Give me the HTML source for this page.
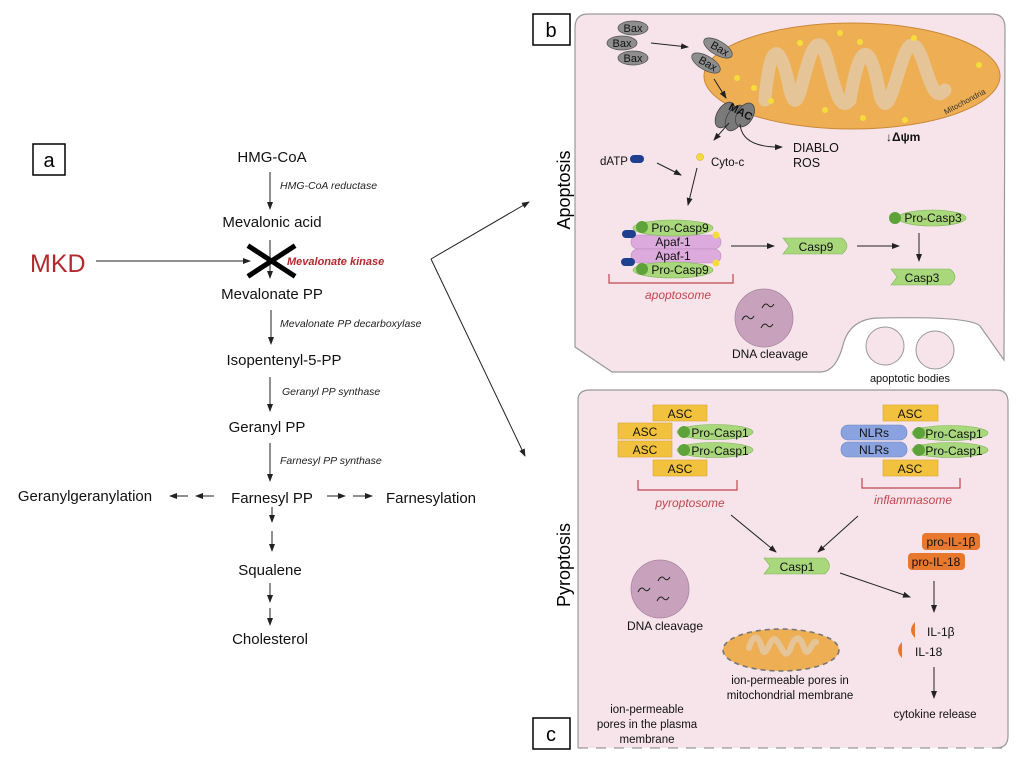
<!DOCTYPE html>
<html><head><meta charset="utf-8"><style>
html,body{margin:0;padding:0;background:#fff;}
svg{display:block;font-family:"Liberation Sans",Arial,sans-serif;}
</style></head><body>
<svg width="1024" height="762" viewBox="0 0 1024 762" xmlns="http://www.w3.org/2000/svg">
<defs>
<marker id="ah" markerWidth="8" markerHeight="8" refX="7" refY="4" orient="auto" markerUnits="userSpaceOnUse"><path d="M0,1 L8,4 L0,7 z" fill="#222"/></marker>
</defs>
<rect width="1024" height="762" fill="#fff"/>

<!-- Panel a -->
<rect x="33" y="144" width="32" height="31" fill="#fff" stroke="#000" stroke-width="1.5"/>
<text x="49" y="167" font-size="20" text-anchor="middle">a</text>
<g font-size="15" text-anchor="middle" fill="#111">
<text x="272" y="162">HMG-CoA</text>
<text x="272" y="227">Mevalonic acid</text>
<text x="272" y="299">Mevalonate PP</text>
<text x="284" y="365">Isopentenyl-5-PP</text>
<text x="267" y="432">Geranyl PP</text>
<text x="272" y="503">Farnesyl PP</text>
<text x="85" y="501">Geranylgeranylation</text>
<text x="431" y="503">Farnesylation</text>
<text x="270" y="575">Squalene</text>
<text x="270" y="644">Cholesterol</text>
</g>
<g font-size="10.5" font-style="italic" fill="#222">
<text x="280" y="189">HMG-CoA reductase</text>
<text x="280" y="327">Mevalonate PP decarboxylase</text>
<text x="282" y="395">Geranyl PP synthase</text>
<text x="280" y="464">Farnesyl PP synthase</text>
</g>
<text x="287" y="265" font-size="11" font-weight="bold" font-style="italic" fill="#b3282d">Mevalonate kinase</text>
<text x="30" y="272" font-size="25" fill="#b3282d">MKD</text>
<g stroke="#222" stroke-width="1" marker-end="url(#ah)">
<line x1="270" y1="172" x2="270" y2="209"/>
<line x1="270" y1="240" x2="270" y2="278"/>
<line x1="271" y1="310" x2="271" y2="344"/>
<line x1="270" y1="377" x2="270" y2="411"/>
<line x1="270" y1="443" x2="270" y2="481"/>
<line x1="96" y1="261" x2="250" y2="261"/>
<line x1="272" y1="507" x2="272" y2="522"/>
<line x1="272" y1="531" x2="272" y2="551"/>
<line x1="270" y1="583" x2="270" y2="602"/>
<line x1="270" y1="608" x2="270" y2="625"/>
<line x1="214" y1="496" x2="196" y2="496"/>
<line x1="188" y1="496" x2="170" y2="496"/>
<line x1="327" y1="496" x2="345" y2="496"/>
<line x1="353" y1="496" x2="372" y2="496"/>
</g>
<g stroke="#000" stroke-width="5" stroke-linecap="square">
<line x1="250" y1="247" x2="293" y2="275"/>
<line x1="293" y1="247" x2="250" y2="275"/>
</g>
<g stroke="#222" stroke-width="1" fill="none">
<line x1="431" y1="259" x2="529" y2="202" marker-end="url(#ah)"/>
<line x1="431" y1="259" x2="525" y2="456" marker-end="url(#ah)"/>
</g>

<!-- Panel b -->
<path d="M588,14 L992,14 Q1005,14 1005,28 L1004,360 L980,326 Q970,316 880,318 Q850,318 843,345 Q836,372 820,372 L612,372 L575,347 L575,28 Q575,14 588,14 Z" fill="#f6e4ea" stroke="#999" stroke-width="1.2"/>
<rect x="533" y="14" width="37" height="31" fill="#fff" stroke="#000" stroke-width="1.5"/>
<text x="551" y="37" font-size="20" text-anchor="middle">b</text>
<text transform="translate(570,190) rotate(-90)" font-size="18" text-anchor="middle">Apoptosis</text>

<ellipse cx="852" cy="76" rx="148" ry="53" fill="#eeae53" stroke="#c8893a" stroke-width="1"/>
<path d="M765,100 C770,40 780,40 790,90 C800,130 805,40 820,45 C830,50 835,120 850,100 C860,40 870,40 880,95 C890,130 900,45 912,45 C925,45 930,110 945,90" fill="none" stroke="#e5c498" stroke-width="13" stroke-linecap="round"/>
<g fill="#f5dc3c">
<circle cx="840" cy="33" r="3"/><circle cx="800" cy="43" r="3"/><circle cx="860" cy="42" r="3"/><circle cx="914" cy="38" r="3"/>
<circle cx="737" cy="78" r="3"/><circle cx="754" cy="88" r="3"/><circle cx="771" cy="101" r="3"/><circle cx="825" cy="110" r="3"/>
<circle cx="863" cy="118" r="3"/><circle cx="905" cy="120" r="3"/><circle cx="979" cy="65" r="3"/>
</g>
<text transform="translate(966,104) rotate(-28)" font-size="8" fill="#333" text-anchor="middle">Mitochondria</text>
<g fill="#8e8e8e" stroke="#555" stroke-width="0.8">
<ellipse cx="633" cy="28" rx="15" ry="7"/><ellipse cx="622" cy="43" rx="15" ry="7"/><ellipse cx="633" cy="58" rx="15" ry="7"/>
<ellipse cx="718" cy="48" rx="16" ry="7" transform="rotate(30 718 48)"/>
<ellipse cx="706" cy="63" rx="16" ry="7" transform="rotate(30 706 63)"/>
</g>
<g font-size="11" fill="#111" text-anchor="middle">
<text x="633" y="32">Bax</text><text x="622" y="47">Bax</text><text x="633" y="62">Bax</text>
<text transform="translate(718,52) rotate(30)">Bax</text>
<text transform="translate(706,67) rotate(30)">Bax</text>
</g>
<g fill="#7a7a7a" stroke="#444" stroke-width="0.8">
<ellipse cx="725" cy="115" rx="8" ry="14" transform="rotate(30 725 115)"/>
<ellipse cx="735" cy="118" rx="8" ry="14" transform="rotate(30 735 118)"/>
<ellipse cx="745" cy="115" rx="8" ry="13" transform="rotate(30 745 115)"/>
</g>
<text transform="translate(739,115) rotate(28)" font-size="11" font-weight="bold" text-anchor="middle" fill="#111">MAC</text>
<g stroke="#222" stroke-width="1" fill="none" marker-end="url(#ah)">
<line x1="651" y1="43" x2="688" y2="47"/>
<line x1="714" y1="79" x2="726" y2="98"/>
<line x1="729" y1="123" x2="714" y2="140"/>
<path d="M740,124 Q742,148 782,147"/>
<line x1="657" y1="163" x2="681" y2="175"/>
<line x1="697" y1="168" x2="688" y2="205"/>
<line x1="731" y1="246" x2="774" y2="246"/>
<line x1="857" y1="246" x2="899" y2="246"/>
<line x1="919" y1="233" x2="919" y2="261"/>
</g>
<text x="793" y="152" font-size="12.5" fill="#111">DIABLO</text>
<text x="793" y="167" font-size="12.5" fill="#111">ROS</text>
<text x="886" y="141" font-size="12" font-weight="bold" fill="#111">↓Δψm</text>
<text x="600" y="165" font-size="11.5" fill="#111">dATP</text>
<rect x="630" y="155" width="14" height="8" rx="4" fill="#1f3f8f"/>
<circle cx="700" cy="157" r="3.5" fill="#f5dc3c" stroke="#c9a820" stroke-width="0.5"/>
<text x="711" y="166" font-size="11.5" fill="#111">Cyto-c</text>

<rect x="631" y="235" width="90" height="14" rx="7" fill="#dcaadc" stroke="#b98ab9" stroke-width="0.6"/>
<rect x="631" y="249" width="90" height="14" rx="7" fill="#dcaadc" stroke="#b98ab9" stroke-width="0.6"/>
<ellipse cx="673" cy="228" rx="40" ry="8" fill="#a9d77c" stroke="#7fb456" stroke-width="0.6"/>
<ellipse cx="673" cy="270" rx="40" ry="8" fill="#a9d77c" stroke="#7fb456" stroke-width="0.6"/>
<circle cx="642" cy="227" r="6" fill="#5ea33a"/><circle cx="642" cy="269" r="6" fill="#5ea33a"/>
<rect x="622" y="230" width="14" height="8" rx="4" fill="#1f3f8f"/>
<rect x="621" y="258" width="14" height="8" rx="4" fill="#1f3f8f"/>
<circle cx="716" cy="235" r="3.5" fill="#f5dc3c"/><circle cx="716" cy="263" r="3.5" fill="#f5dc3c"/>
<g font-size="12" fill="#111" text-anchor="middle">
<text x="680" y="232">Pro-Casp9</text><text x="673" y="246">Apaf-1</text><text x="673" y="260">Apaf-1</text><text x="680" y="274">Pro-Casp9</text>
</g>
<path d="M609,274 L609,283 L733,283 L733,274" fill="none" stroke="#c0474f" stroke-width="1.2"/>
<text x="678" y="299" font-size="12" font-style="italic" fill="#c0474f" text-anchor="middle">apoptosome</text>

<path d="M783,238 L842,238 Q852,246 842,254 L783,254 L789,246 Z" fill="#a9d77c" stroke="#7fb456" stroke-width="0.6"/>
<text x="816" y="251" font-size="12" text-anchor="middle" fill="#111">Casp9</text>
<ellipse cx="932" cy="218" rx="34" ry="8" fill="#a9d77c" stroke="#7fb456" stroke-width="0.6"/>
<circle cx="895" cy="218" r="6" fill="#5ea33a"/>
<text x="933" y="222" font-size="12" text-anchor="middle" fill="#111">Pro-Casp3</text>
<path d="M891,269 L950,269 Q960,277 950,285 L891,285 L897,277 Z" fill="#a9d77c" stroke="#7fb456" stroke-width="0.6"/>
<text x="922" y="282" font-size="12" text-anchor="middle" fill="#111">Casp3</text>

<circle cx="764" cy="318" r="29" fill="#c8a2bd" stroke="#a885a0" stroke-width="0.8"/>
<g stroke="#222" fill="none" stroke-width="1">
<path d="M742,320 q3,-6 6,-3 q3,4 6,-1"/><path d="M762,308 q3,-6 6,-3 q3,4 6,-1"/><path d="M761,328 q3,-6 6,-3 q3,4 6,-1"/>
</g>
<text x="770" y="358" font-size="12" text-anchor="middle" fill="#111">DNA cleavage</text>
<circle cx="885" cy="346" r="19" fill="#f6e4ea" stroke="#999"/>
<circle cx="935" cy="350" r="19" fill="#f6e4ea" stroke="#999"/>
<text x="910" y="382" font-size="11" text-anchor="middle" fill="#111">apoptotic bodies</text>

<!-- Panel c -->
<path d="M578,748 L578,400 Q578,390 590,390 L996,390 Q1008,390 1008,402 L1008,736 Q1008,748 996,748" fill="#f6e4ea" stroke="#999" stroke-width="1.2"/>
<line x1="578" y1="748" x2="1008" y2="748" stroke="#999" stroke-width="1.2" stroke-dasharray="10,8"/>
<rect x="533" y="718" width="37" height="31" fill="#fff" stroke="#000" stroke-width="1.5"/>
<text x="551" y="741" font-size="20" text-anchor="middle">c</text>
<text transform="translate(570,565) rotate(-90)" font-size="18" text-anchor="middle">Pyroptosis</text>

<g fill="#f2c23f" stroke="#d7a52b" stroke-width="0.6">
<rect x="653" y="405" width="54" height="16"/><rect x="618" y="423" width="54" height="16"/>
<rect x="618" y="441" width="54" height="16"/><rect x="653" y="460" width="54" height="16"/>
<rect x="883" y="405" width="55" height="16"/><rect x="883" y="460" width="55" height="16"/>
</g>
<g fill="#8aa3e0" stroke="#6b84c4" stroke-width="0.6">
<rect x="841" y="425" width="66" height="15" rx="7"/><rect x="841" y="442" width="66" height="15" rx="7"/>
</g>
<g fill="#a9d77c" stroke="#7fb456" stroke-width="0.6">
<ellipse cx="715" cy="432" rx="38" ry="7.5"/><ellipse cx="715" cy="450" rx="38" ry="7.5"/>
<ellipse cx="950" cy="433" rx="38" ry="7.5"/><ellipse cx="950" cy="450" rx="38" ry="7.5"/>
</g>
<g fill="#5ea33a"><circle cx="684" cy="432" r="6"/><circle cx="684" cy="450" r="6"/><circle cx="919" cy="433" r="6"/><circle cx="919" cy="450" r="6"/></g>
<g font-size="12" fill="#111" text-anchor="middle">
<text x="680" y="418">ASC</text><text x="645" y="436">ASC</text><text x="645" y="454">ASC</text><text x="680" y="473">ASC</text>
<text x="720" y="437">Pro-Casp1</text><text x="720" y="455">Pro-Casp1</text>
<text x="910" y="418">ASC</text><text x="910" y="473">ASC</text>
<text x="874" y="437">NLRs</text><text x="874" y="454">NLRs</text>
<text x="954" y="438">Pro-Casp1</text><text x="954" y="455">Pro-Casp1</text>
</g>
<path d="M638,480 L638,490 L737,490 L737,480" fill="none" stroke="#c0474f" stroke-width="1.2"/>
<text x="690" y="507" font-size="12" font-style="italic" fill="#c0474f" text-anchor="middle">pyroptosome</text>
<path d="M862,478 L862,488 L960,488 L960,478" fill="none" stroke="#c0474f" stroke-width="1.2"/>
<text x="913" y="504" font-size="12" font-style="italic" fill="#c0474f" text-anchor="middle">inflammasome</text>
<g stroke="#222" stroke-width="1" fill="none" marker-end="url(#ah)">
<line x1="731" y1="515" x2="776" y2="552"/>
<line x1="858" y1="516" x2="818" y2="552"/>
<line x1="840" y1="573" x2="910" y2="597"/>
<line x1="934" y1="581" x2="934" y2="612"/>
<line x1="934" y1="667" x2="934" y2="698"/>
</g>
<path d="M764,558 L825,558 Q834,566 825,574 L764,574 L770,566 Z" fill="#a9d77c" stroke="#7fb456" stroke-width="0.6"/>
<text x="797" y="571" font-size="12" text-anchor="middle" fill="#111">Casp1</text>
<rect x="922" y="533" width="58" height="17" rx="4" fill="#e8782e"/>
<rect x="908" y="553" width="57" height="17" rx="4" fill="#e8782e"/>
<text x="951" y="546" font-size="12" text-anchor="middle" fill="#111">pro-IL-1β</text>
<text x="936" y="566" font-size="12" text-anchor="middle" fill="#111">pro-IL-18</text>
<path d="M915,622 Q907,630 915,638 Z" fill="#e8782e"/>
<path d="M902,642 Q894,650 902,658 Z" fill="#e8782e"/>
<text x="927" y="636" font-size="12" fill="#111">IL-1β</text>
<text x="915" y="656" font-size="12" fill="#111">IL-18</text>
<text x="935" y="718" font-size="11.5" text-anchor="middle" fill="#111">cytokine release</text>

<circle cx="660" cy="589" r="29" fill="#c8a2bd" stroke="#a885a0" stroke-width="0.8"/>
<g stroke="#222" fill="none" stroke-width="1">
<path d="M638,592 q3,-6 6,-3 q3,4 6,-1"/><path d="M658,581 q3,-6 6,-3 q3,4 6,-1"/><path d="M657,601 q3,-6 6,-3 q3,4 6,-1"/>
</g>
<text x="665" y="630" font-size="12" text-anchor="middle" fill="#111">DNA cleavage</text>
<ellipse cx="781" cy="650" rx="58" ry="21" fill="#eeae53" stroke="#777" stroke-width="1.6" stroke-dasharray="5,4"/>
<path d="M749,648 C753,634 758,634 762,648 C766,662 770,634 776,640 C782,646 784,660 790,650 C794,636 800,634 804,648 C808,660 812,640 816,642" fill="none" stroke="#e5c498" stroke-width="6" stroke-linecap="round"/>
<text x="790" y="684" font-size="11.5" text-anchor="middle" fill="#111">ion-permeable pores in</text>
<text x="790" y="699" font-size="11.5" text-anchor="middle" fill="#111">mitochondrial membrane</text>
<text x="647" y="713" font-size="11.5" text-anchor="middle" fill="#111">ion-permeable</text>
<text x="647" y="728" font-size="11.5" text-anchor="middle" fill="#111">pores in the plasma</text>
<text x="647" y="743" font-size="11.5" text-anchor="middle" fill="#111">membrane</text>
</svg>
</body></html>
